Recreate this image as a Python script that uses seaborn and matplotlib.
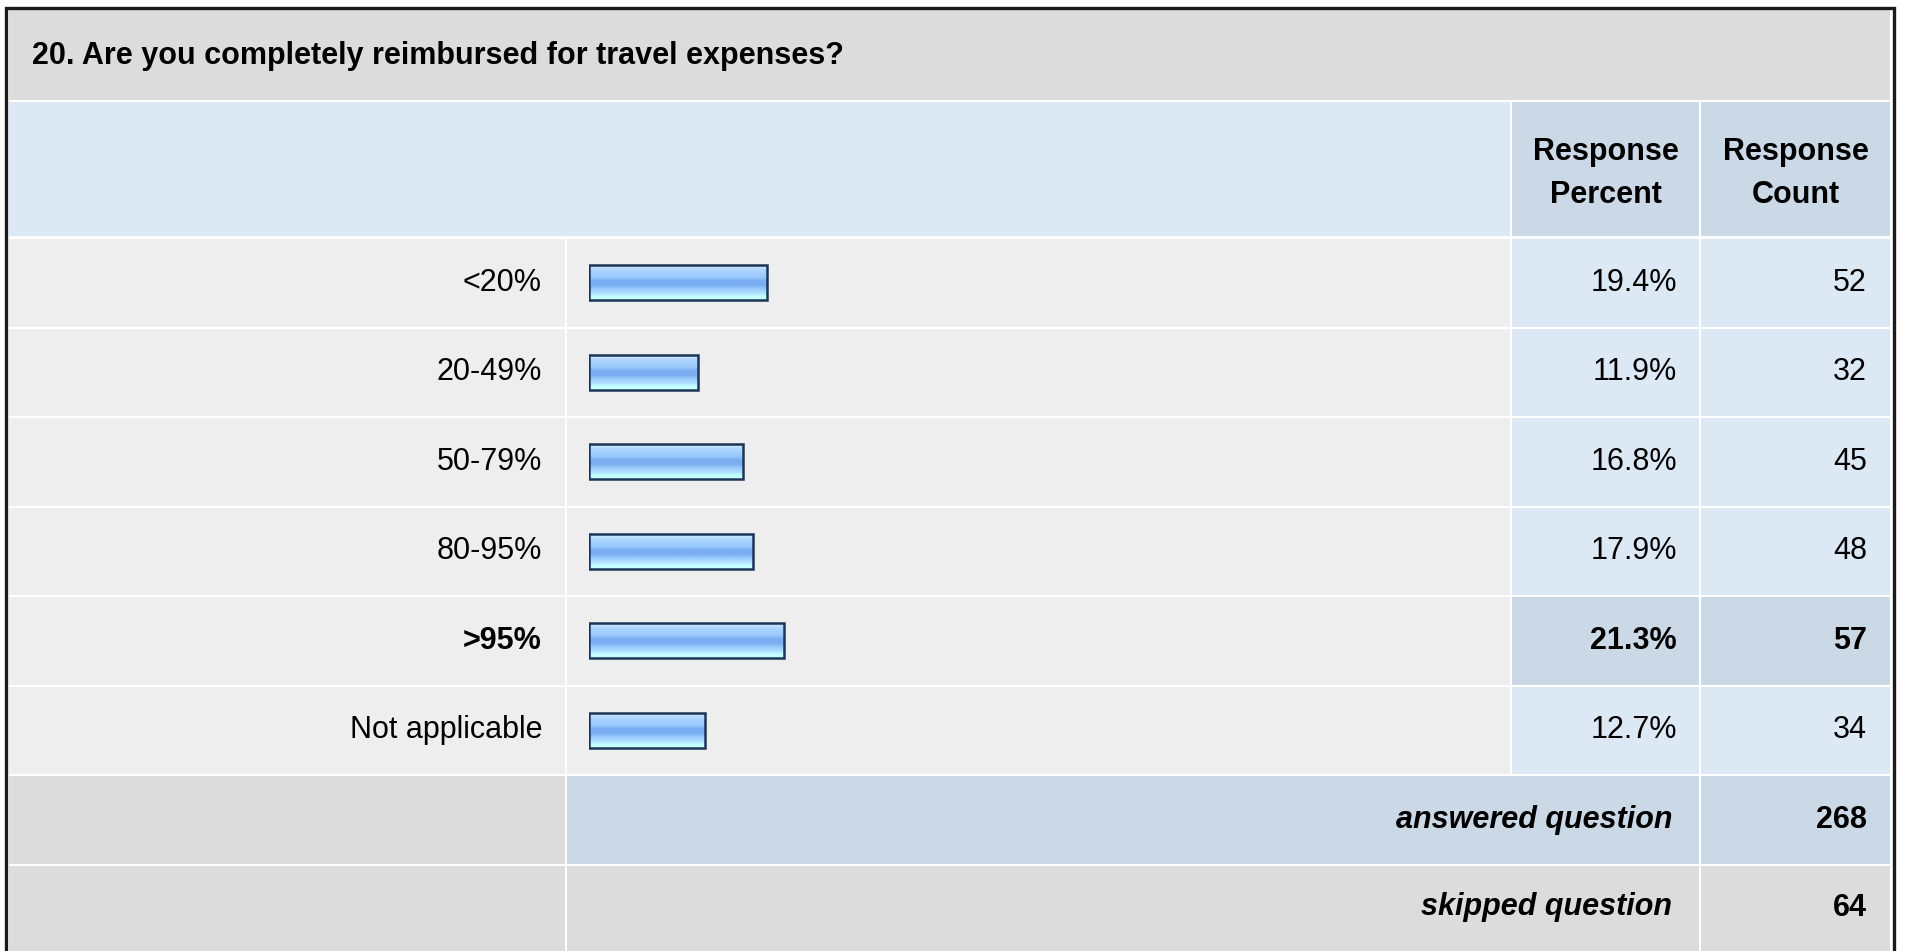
import numpy as np
import matplotlib
matplotlib.use('Agg')
import matplotlib.pyplot as plt
import seaborn as sns
import pandas as pd
from matplotlib.patches import Rectangle
from matplotlib.colors import LinearSegmentedColormap

# --- data ---
TITLE = '20. Are you completely reimbursed for travel expenses?'
labels = ['<20%', '20-49%', '50-79%', '80-95%', '>95%', 'Not applicable']
percents = [19.4, 11.9, 16.8, 17.9, 21.3, 12.7]
counts = [52, 32, 45, 48, 57, 34]
answered = 268
skipped = 64

# --- style ---
sns.set_theme(style='white')
plt.rcParams['font.family'] = ['Liberation Sans', 'DejaVu Sans']
plt.rcParams['text.color'] = 'black'

W, H = 1907, 951
GRAY = '#dcdcdc'
LIGHT = '#eeeeee'
BLUE = '#dde8f5'
BLUE2 = '#cbd8e6'
FS = 22

fig = plt.figure(figsize=(W / 100, H / 100), dpi=100)
bg = fig.add_axes([0, 0, 1, 1])
bg.set_xlim(0, W)
bg.set_ylim(H, 0)
bg.axis('off')

# column / row edges in pixels
cols = [8, 566, 1511, 1700, 1891]
row_top = 238
row_h = 89.5
n = len(labels)

def cell(x0, x1, y0, y1, color):
    bg.add_patch(Rectangle((x0 + 1, y0 + 1), x1 - x0 - 2, y1 - y0 - 2,
                           facecolor=color, edgecolor='none', zorder=0))

# title row
cell(cols[0], cols[4], 9, 101, GRAY)
bg.text(32, 56, TITLE, fontsize=22, fontweight='bold', va='center', ha='left')

# header row
cell(cols[0], cols[2], 101, 237, BLUE)
cell(cols[2], cols[3], 101, 237, BLUE2)
cell(cols[3], cols[4], 101, 237, BLUE2)
for c0, c1, word in [(cols[2], cols[3], 'Percent'), (cols[3], cols[4], 'Count')]:
    xc = (c0 + c1) / 2
    bg.text(xc, 152, 'Response', fontsize=FS, fontweight='bold', ha='center', va='center')
    bg.text(xc, 195, word, fontsize=FS, fontweight='bold', ha='center', va='center')

best = int(np.argmax(percents))
for i, (lab, p, c) in enumerate(zip(labels, percents, counts)):
    y0 = row_top + i * row_h
    y1 = y0 + row_h
    yc = (y0 + y1) / 2
    hl = i == best
    cell(cols[0], cols[1], y0, y1, LIGHT)
    cell(cols[1], cols[2], y0, y1, LIGHT)
    cell(cols[2], cols[3], y0, y1, BLUE2 if hl else BLUE)
    cell(cols[3], cols[4], y0, y1, BLUE2 if hl else BLUE)
    fw = 'bold' if hl else 'normal'
    bg.text(542, yc, lab, fontsize=FS, fontweight=fw, ha='right', va='center')
    bg.text(1677, yc, f'{p:.1f}%', fontsize=FS, fontweight=fw, ha='right', va='center')
    bg.text(1867, yc, str(c), fontsize=FS, fontweight=fw, ha='right', va='center')

# summary rows
y0 = row_top + n * row_h
cell(cols[0], cols[1], y0, y0 + row_h, GRAY)
cell(cols[1], cols[3], y0, y0 + row_h, BLUE2)
cell(cols[3], cols[4], y0, y0 + row_h, BLUE2)
bg.text(1672, y0 + row_h / 2, 'answered question', fontsize=FS, fontweight='bold',
        style='italic', ha='right', va='center')
bg.text(1867, y0 + row_h / 2, str(answered), fontsize=FS, fontweight='bold', ha='right', va='center')
y0 += row_h
cell(cols[0], cols[1], y0, H + 5, GRAY)
cell(cols[1], cols[3], y0, H + 5, GRAY)
cell(cols[3], cols[4], y0, H + 5, GRAY)
bg.text(1672, y0 + 43, 'skipped question', fontsize=FS, fontweight='bold',
        style='italic', ha='right', va='center')
bg.text(1867, y0 + 43, str(skipped), fontsize=FS, fontweight='bold', ha='right', va='center')

# outer border
bg.plot([5.5, 5.5, 1893.5, 1893.5], [H + 5, 7.5, 7.5, H + 5], color='#1a1a1a', lw=2.4,
        solid_joinstyle='miter', zorder=5)

# --- bars through seaborn ---
bar_left, bar_right = 589, 1506
ax = fig.add_axes([bar_left / W, 1 - (row_top + n * row_h) / H,
                   (bar_right - bar_left) / W, n * row_h / H])
ax.patch.set_alpha(0)
df = pd.DataFrame({'label': labels, 'percent': percents})
sns.barplot(data=df, x='percent', y='label', orient='h', width=0.39,
            color='#9ccafc', ax=ax, zorder=2)
ax.set_xlim(0, 100)
ax.set_ylim(n - 0.5, -0.5)
ax.axis('off')

grad = LinearSegmentedColormap.from_list('bar', [
    (0.0, '#d3e9ff'), (0.15, '#acd5ff'), (0.35, '#98c8fb'), (0.45, '#7badf1'),
    (0.58, '#7badf1'), (0.68, '#98cafc'), (0.82, '#b2e2ff'), (0.9, '#c4ffff'), (1.0, '#c4ffff')])
g = np.linspace(0, 1, 64).reshape(-1, 1)
for patch in list(ax.patches):
    x0, yb = patch.get_x(), patch.get_y()
    w, h = patch.get_width(), patch.get_height()
    im = ax.imshow(g, cmap=grad, aspect='auto', extent=(x0, x0 + w, yb + h, yb),
                   zorder=1, interpolation='bilinear')
    im.set_clip_path(patch)
    patch.set_facecolor('none')
    patch.set_edgecolor('#1c3557')
    patch.set_linewidth(1.8)
    patch.set_zorder(3)
ax.set_xlim(0, 100)
ax.set_ylim(n - 0.5, -0.5)

fig.savefig('out.png', dpi=100)
